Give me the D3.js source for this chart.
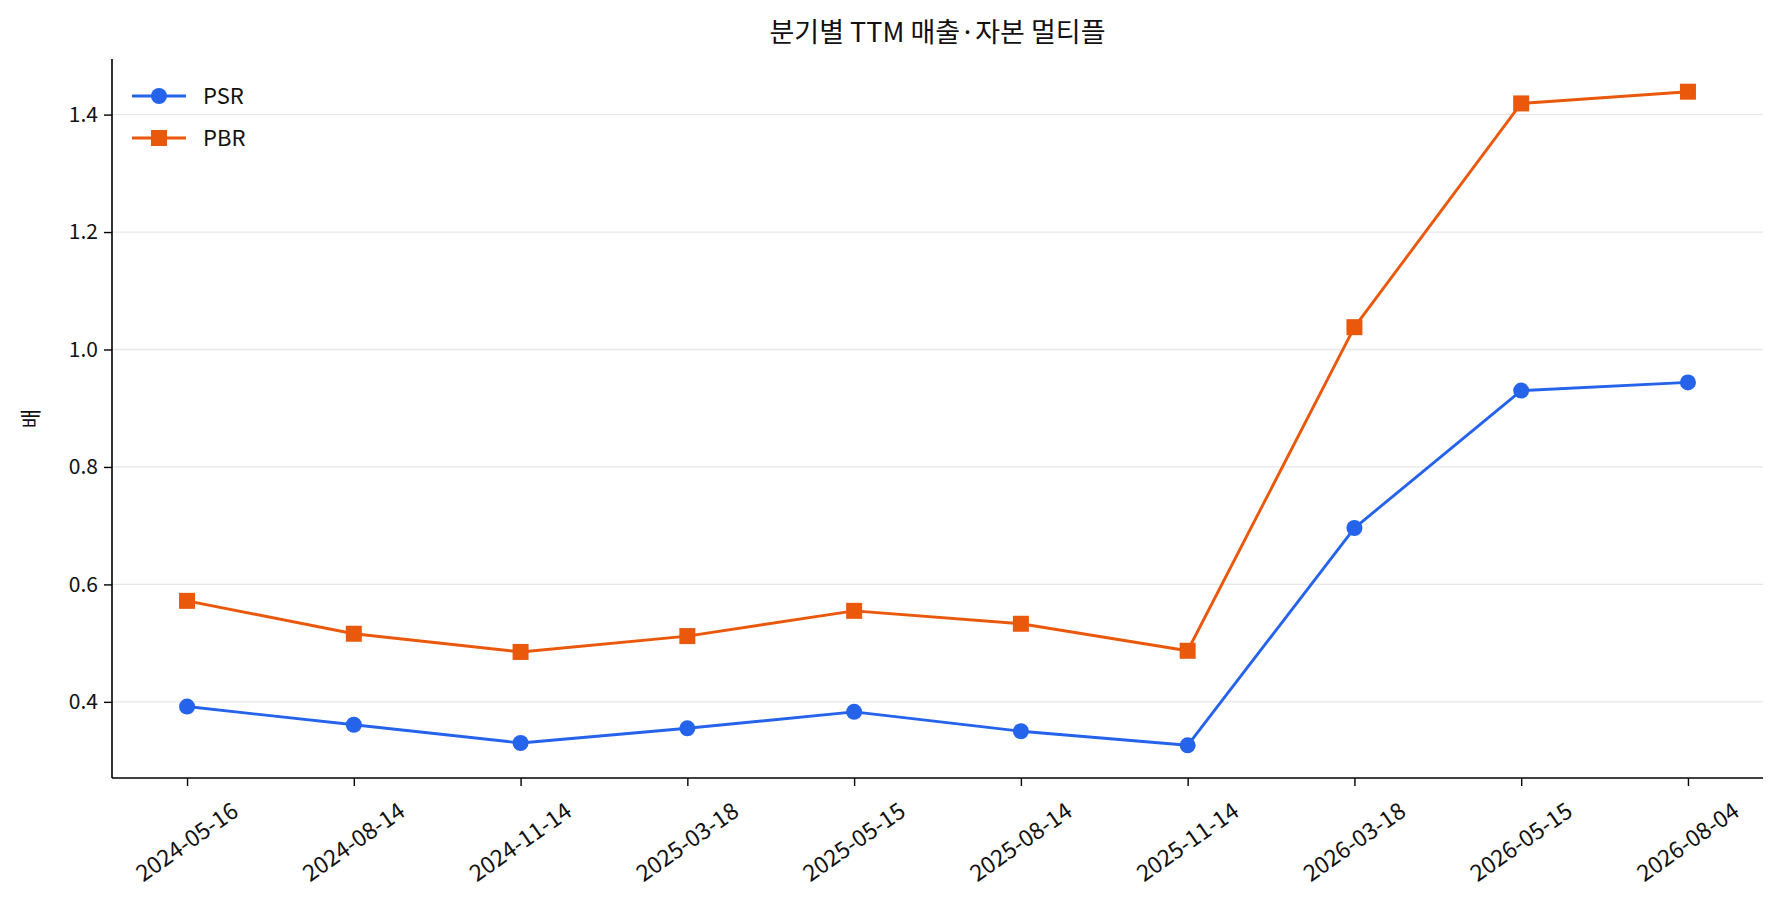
<!DOCTYPE html>
<html>
<head>
<meta charset="utf-8">
<script src="https://cdn.jsdelivr.net/npm/d3@7"></script>
<style>
    html, body { margin: 0; padding: 0; background: #fff; overflow: hidden; }
    svg { display: block; }
    svg text { font-family: "Noto Sans CJK KR", "Noto Sans", sans-serif; fill: #111; }
</style>
</head>
<body>
<div id="chart"></div>
<script>
const dates = ["2024-05-16", "2024-08-14", "2024-11-14", "2025-03-18", "2025-05-15",
               "2025-08-14", "2025-11-14", "2026-03-18", "2026-05-15", "2026-08-04"];
const psr = [0.392, 0.361, 0.330, 0.355, 0.383, 0.350, 0.326, 0.696, 0.930, 0.944];
const pbr = [0.572, 0.516, 0.485, 0.512, 0.555, 0.533, 0.487, 1.038, 1.419, 1.439];
const yTicks = [0.4, 0.6, 0.8, 1.0, 1.2, 1.4];

const width = 1780;
const height = 917;
const margin = {top: 59, right: 17, bottom: 139, left: 112};
const innerWidth = width - margin.left - margin.right;
const innerHeight = height - margin.top - margin.bottom;
const fontSize = 21;

const series = [
    {name: "PSR", values: psr, color: "#2563eb", marker: "circle"},
    {name: "PBR", values: pbr, color: "#ea580c", marker: "square"}
];

const svg = d3.select("#chart")
    .append("svg")
        .attr("width", width)
        .attr("height", height)
        .attr("viewBox", `0 0 ${width} ${height}`);

const innerChart = svg.append("g")
    .attr("transform", `translate(${margin.left}, ${margin.top})`);

// matplotlib-like 5% margins
const n = dates.length;
const xScale = d3.scaleLinear()
    .domain([-0.05 * (n - 1), (n - 1) * 1.05])
    .range([0, innerWidth]);

const allVals = psr.concat(pbr);
const yMin = d3.min(allVals), yMax = d3.max(allVals);
const pad = (yMax - yMin) * 0.05;
const yScale = d3.scaleLinear()
    .domain([yMin - pad, yMax + pad])
    .range([innerHeight, 0]);

// grid
innerChart.append("g")
    .selectAll("line")
    .data(yTicks)
    .join("line")
        .attr("x1", 0)
        .attr("x2", innerWidth)
        .attr("y1", d => yScale(d))
        .attr("y2", d => yScale(d))
        .attr("stroke", "#e5e7eb")
        .attr("stroke-width", 1.3);

// y axis
const yAxis = d3.axisLeft(yScale)
    .tickValues(yTicks)
    .tickFormat(d3.format(".1f"))
    .tickSize(8)
    .tickPadding(6);
const yAxisG = innerChart.append("g")
    .attr("class", "y-axis")
    .call(yAxis);
yAxisG.select(".domain").attr("stroke", "#000").attr("stroke-width", 1.6)
    .attr("d", `M0,0V${innerHeight}`);
yAxisG.selectAll(".tick line").attr("stroke", "#000").attr("stroke-width", 1.4);
yAxisG.selectAll(".tick text").style("font-size", `${fontSize}px`);

// x axis (ticks only, labels drawn below)
const xAxis = d3.axisBottom(xScale)
    .tickValues(d3.range(n))
    .tickFormat("")
    .tickSize(8);
const xAxisG = innerChart.append("g")
    .attr("class", "x-axis")
    .attr("transform", `translate(0, ${innerHeight})`)
    .call(xAxis);
xAxisG.select(".domain").attr("stroke", "#000").attr("stroke-width", 1.6)
    .attr("d", `M0,0H${innerWidth}`);
xAxisG.selectAll(".tick line").attr("stroke", "#000").attr("stroke-width", 1.4);

// rotated x labels, centred under each tick
innerChart.append("g")
    .attr("class", "x-labels")
    .selectAll("g")
    .data(dates)
    .join("g")
        .attr("transform", (d, i) => `translate(${xScale(i)}, ${innerHeight + 64}) rotate(-35)`)
    .append("text")
        .text(d => d)
        .attr("text-anchor", "middle")
        .attr("dy", "0.35em")
        .style("font-size", "23px");

// lines
const lineGen = d3.line()
    .x((d, i) => xScale(i))
    .y(d => yScale(d));

series.forEach(s => {
    innerChart.append("path")
        .datum(s.values)
        .attr("d", lineGen)
        .attr("fill", "none")
        .attr("stroke", s.color)
        .attr("stroke-width", 2.9)
        .attr("stroke-linejoin", "round");

    if (s.marker === "circle") {
        innerChart.append("g")
            .selectAll("circle")
            .data(s.values)
            .join("circle")
                .attr("cx", (d, i) => xScale(i))
                .attr("cy", d => yScale(d))
                .attr("r", 8)
                .attr("fill", s.color);
    } else {
        innerChart.append("g")
            .selectAll("rect")
            .data(s.values)
            .join("rect")
                .attr("x", (d, i) => xScale(i) - 8)
                .attr("y", d => yScale(d) - 8)
                .attr("width", 16)
                .attr("height", 16)
                .attr("fill", s.color);
    }
});

// legend
const legend = svg.append("g")
    .attr("class", "legend");
series.forEach((s, i) => {
    const y = 96 + i * 42;
    const item = legend.append("g");
    item.append("line")
        .attr("x1", 132).attr("x2", 186)
        .attr("y1", y).attr("y2", y)
        .attr("stroke", s.color)
        .attr("stroke-width", 2.9);
    if (s.marker === "circle") {
        item.append("circle").attr("cx", 159).attr("cy", y).attr("r", 8).attr("fill", s.color);
    } else {
        item.append("rect").attr("x", 151).attr("y", y - 8).attr("width", 16).attr("height", 16).attr("fill", s.color);
    }
    item.append("text")
        .text(s.name)
        .attr("x", 203)
        .attr("y", y)
        .attr("dy", "0.35em")
        .style("font-size", "22px");
});

// title
svg.append("text")
    .text("분기별 TTM 매출·자본 멀티플")
    .attr("x", margin.left + innerWidth / 2)
    .attr("y", 33)
    .attr("dy", "0.35em")
    .attr("text-anchor", "middle")
    .style("font-size", "27px");

// y label
svg.append("text")
    .text("배")
    .attr("transform", `translate(31, ${margin.top + innerHeight / 2}) rotate(-90)`)
    .attr("text-anchor", "middle")
    .attr("dy", "0.35em")
    .style("font-size", "21px");
</script>
</body>
</html>
